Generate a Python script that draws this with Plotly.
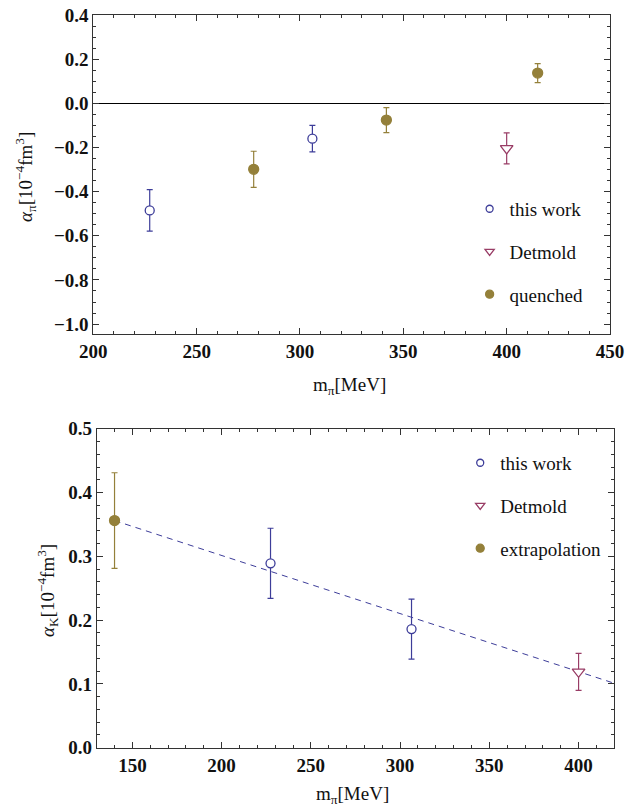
import plotly.graph_objects as go

# ---- top panel data (pion polarizability) ----
tw_pi_x = [227.3, 306.0]
tw_pi_y = [-0.485, -0.160]
tw_pi_err = [0.094, 0.060]

det_pi_x = [400.0]
det_pi_y = [-0.204]
det_pi_err = [0.070]

q_pi_x = [277.6, 341.8, 415.0]
q_pi_y = [-0.299, -0.076, 0.137]
q_pi_err = [0.082, 0.057, 0.043]

# ---- bottom panel data (kaon polarizability) ----
tw_k_x = [227.4, 306.4]
tw_k_y = [0.289, 0.186]
tw_k_err = [0.055, 0.047]

det_k_x = [400.0]
det_k_y = [0.119]
det_k_err = [0.029]

ex_k_x = [140.0]
ex_k_y = [0.356]
ex_k_err = [0.075]

fit_x = [140.0, 420.0]
fit_y = [0.356, 0.101]

BLUE = "#3d3d99"
MAG = "#993d66"
OLIVE = "#94803a"
FONT = "Liberation Serif"

fig = go.Figure()


def add_series(x, y, err, color, symbol, size, xa, ya, filled):
    fig.add_trace(go.Scatter(
        x=x, y=y, mode="markers", xaxis=xa, yaxis=ya, showlegend=False,
        marker=dict(symbol=symbol, size=size,
                    color=color if filled else "white",
                    line=dict(color=color, width=1.3)),
        error_y=dict(type="data", array=err, color=color, thickness=1.2, width=3),
    ))


def add_legend(name, color, symbol, size, filled, legend):
    fig.add_trace(go.Scatter(
        x=[None], y=[None], mode="markers", name=name, legend=legend,
        legendgroup=name + legend,
        marker=dict(symbol=symbol, size=size,
                    color=color if filled else "white",
                    line=dict(color=color, width=1.3)),
    ))


# top panel
add_series(tw_pi_x, tw_pi_y, tw_pi_err, BLUE, "circle", 9, "x", "y", False)
add_series(det_pi_x, det_pi_y, det_pi_err, MAG, "triangle-down", 11, "x", "y", False)
add_series(q_pi_x, q_pi_y, q_pi_err, OLIVE, "circle", 10, "x", "y", True)

# bottom panel
fig.add_trace(go.Scatter(x=fit_x, y=fit_y, mode="lines", xaxis="x2", yaxis="y2",
                         showlegend=False,
                         line=dict(color=BLUE, width=1, dash="6px,5px")))
add_series(tw_k_x, tw_k_y, tw_k_err, BLUE, "circle", 9, "x2", "y2", False)
add_series(det_k_x, det_k_y, det_k_err, MAG, "triangle-down", 11, "x2", "y2", False)
add_series(ex_k_x, ex_k_y, ex_k_err, OLIVE, "circle", 10, "x2", "y2", True)

add_legend("this work", BLUE, "circle", 7, False, "legend")
add_legend("Detmold", MAG, "triangle-down", 8, False, "legend")
add_legend("quenched", OLIVE, "circle", 8, True, "legend")
add_legend("this work", BLUE, "circle", 7, False, "legend2")
add_legend("Detmold", MAG, "triangle-down", 8, False, "legend2")
add_legend("extrapolation", OLIVE, "circle", 8, True, "legend2")

tickfont = dict(family=FONT, size=19, color="#111", weight="bold")
minor_common = dict(ticklen=3, ticks="inside", tickcolor="#333")
common = dict(showgrid=False, ticks="inside", mirror="allticks", showline=True,
              linecolor="#333", linewidth=1, ticklen=6, tickcolor="#333",
              tickfont=tickfont, automargin=False)

TITLE_FONT = dict(family=FONT, size=19, color="#111")
LEG_FONT = dict(family=FONT, size=19, color="#111")

fig.update_layout(
    template="none",
    font=dict(family=FONT, color="#111"),
    width=627, height=808, margin=dict(l=0, r=0, t=0, b=0, pad=0),
    paper_bgcolor="white", plot_bgcolor="white",
    xaxis=dict(domain=[0.1488, 0.9729], range=[200, 450], anchor="y",
               tick0=200, dtick=50, minor=dict(dtick=10, **minor_common),
               zeroline=False, **common),
    yaxis=dict(domain=[0.5866, 0.9814], range=[-1.045, 0.4], anchor="x",
               tick0=0, dtick=0.2, tickformat=".1f",
               minor=dict(dtick=0.05, **minor_common),
               zeroline=True, zerolinecolor="black", zerolinewidth=1, **common),
    xaxis2=dict(domain=[0.1542, 0.9797], range=[130, 420], anchor="y2",
                tick0=150, dtick=50, minor=dict(dtick=10, **minor_common),
                zeroline=False, **common),
    yaxis2=dict(domain=[0.0746, 0.4694], range=[0, 0.5], anchor="x2",
                tick0=0, dtick=0.1, tickformat=".1f",
                minor=dict(dtick=0.02, **minor_common),
                zeroline=False, **common),
    legend=dict(x=0.749, y=0.765, xanchor="left", yanchor="top", bgcolor="rgba(0,0,0,0)",
                font=LEG_FONT, tracegroupgap=15, itemwidth=30),
    legend2=dict(x=0.734, y=0.4506, xanchor="left", yanchor="top", bgcolor="rgba(0,0,0,0)",
                 font=LEG_FONT, tracegroupgap=15, itemwidth=30),
    annotations=[
        dict(text="<i>α</i><sub>π</sub>[10<sup>−4</sup>fm<sup>3</sup>]", xref="paper", yref="paper",
             x=26 / 627, y=1 - 177 / 808, xanchor="center", yanchor="middle",
             textangle=-90, showarrow=False, font=TITLE_FONT),
        dict(text="m<sub>π</sub>[MeV]", xref="paper", yref="paper",
             x=349 / 627, y=1 - 372 / 808, xanchor="center", yanchor="top",
             showarrow=False, font=TITLE_FONT),
        dict(text="<i>α</i><sub>K</sub>[10<sup>−4</sup>fm<sup>3</sup>]", xref="paper", yref="paper",
             x=47 / 627, y=1 - 590 / 808, xanchor="center", yanchor="middle",
             textangle=-90, showarrow=False, font=TITLE_FONT),
        dict(text="m<sub>π</sub>[MeV]", xref="paper", yref="paper",
             x=352 / 627, y=1 - 781 / 808, xanchor="center", yanchor="top",
             showarrow=False, font=TITLE_FONT),
    ],
)

fig.write_html("out.html", config={"displayModeBar": False},
               post_script="document.body.style.margin='0px';document.body.style.overflow='hidden';")
